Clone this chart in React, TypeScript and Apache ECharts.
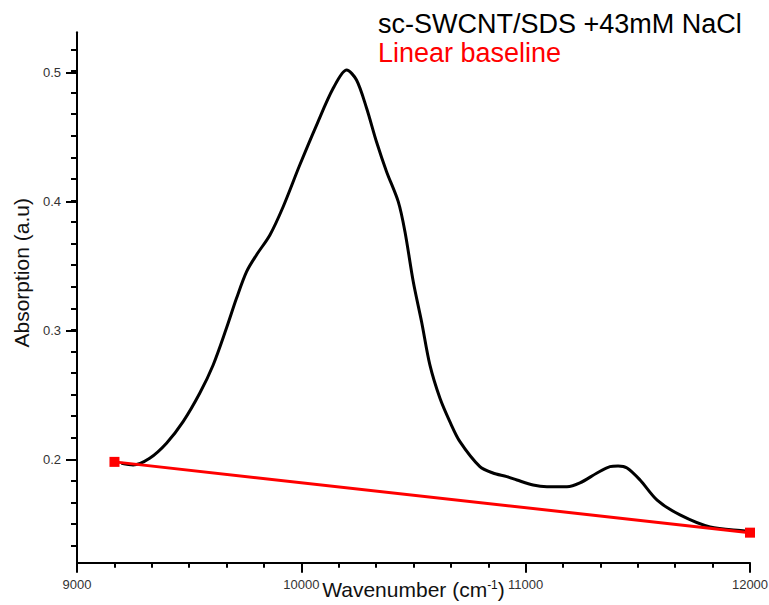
import React, { useEffect, useRef } from "react";
import * as echarts from "echarts";

const wavenumber = [
  9198, 9250, 9324, 9399, 9473, 9547, 9607, 9666, 9711, 9756, 9800, 9860, 9919, 9993,
  10068, 10142, 10202, 10246, 10291, 10335, 10380, 10432, 10462, 10499, 10536, 10573,
  10618, 10662, 10707, 10796, 10854, 10916, 10961, 11033, 11095, 11184, 11242, 11318,
  11376, 11412, 11452, 11510, 11586, 11688, 11822, 11978, 12000,
];
const absorption = [
  0.1969, 0.1956, 0.2008, 0.2124, 0.2291, 0.251, 0.2729, 0.3012, 0.3244, 0.345, 0.3579,
  0.3734, 0.3952, 0.4274, 0.4583, 0.4867, 0.5009, 0.4931, 0.4713, 0.4454, 0.4223, 0.3991,
  0.3759, 0.3372, 0.3063, 0.2729, 0.2471, 0.2291, 0.2136, 0.1943, 0.1894, 0.1866, 0.184,
  0.1801, 0.1788, 0.1788, 0.1817, 0.1894, 0.1943, 0.1948, 0.1933, 0.184, 0.1685, 0.157,
  0.1477, 0.1446, 0.1440,
];
const baselineX = [9167, 12000];
const baselineY = [0.198, 0.1433];

const seriesNames = ["sc-SWCNT/SDS +43mM NaCl", "Linear baseline"];
const xTicks = { min: 9000, max: 12000, step: 1000 };
const yMajor = { min: 0.2, max: 0.5, step: 0.1 };
const yRange = { min: 0.12, max: 0.53 };

export default function App() {
  const ref = useRef<HTMLDivElement>(null);
  useEffect(() => {
    if (!ref.current) return;
    const chart = echarts.init(ref.current, null, { renderer: "svg" });
    const font = "Arial, 'Liberation Sans', sans-serif";
    const black = "#000";
    const hiddenX = (gridIndex: number) => ({
      type: "value",
      gridIndex,
      min: xTicks.min,
      max: xTicks.max,
      show: false,
    });
    const gridBase = { left: 77, right: 19, containLabel: false, outerBoundsMode: "none" };
    chart.setOption({
      animation: false,
      backgroundColor: "#fff",
      textStyle: { fontFamily: font },
      legend: {
        orient: "vertical",
        left: 373,
        top: 10,
        padding: 0,
        itemGap: 2,
        itemWidth: 0,
        itemHeight: 0,
        itemStyle: { opacity: 0 },
        lineStyle: { opacity: 0 },
        selectedMode: false,
        textStyle: { fontSize: 27, fontFamily: font },
        data: [
          { name: seriesNames[0], icon: "rect", textStyle: { color: "#000" } },
          { name: seriesNames[1], icon: "rect", textStyle: { color: "#ff0000" } },
        ],
      },
      grid: [
        { ...gridBase, top: 32.3, bottom: 42.2 },
        { ...gridBase, top: 49.5, bottom: 59.4 },
        { ...gridBase, top: 72.3, bottom: 145.7 },
      ],
      xAxis: [
        {
          type: "value",
          gridIndex: 0,
          min: xTicks.min,
          max: xTicks.max,
          interval: xTicks.step,
          name: "Wavenumber (cm{sup|-1})",
          nameLocation: "middle",
          nameGap: 16,
          nameMoveOverlap: false,
          nameTextStyle: {
            fontSize: 21,
            color: "#111",
            verticalAlign: "top",
            rich: { sup: { fontSize: 12, verticalAlign: "top", color: "#111" } },
          },
          axisLine: { lineStyle: { color: black, width: 2 } },
          axisTick: { length: 10, lineStyle: { color: black, width: 2 } },
          minorTick: { show: true, splitNumber: 6, length: 5, lineStyle: { color: black, width: 2 } },
          axisLabel: { fontSize: 13, color: "#333", margin: 15, formatter: (v: number) => String(v) },
          splitLine: { show: false },
        },
        hiddenX(1),
        hiddenX(2),
      ],
      yAxis: [
        {
          type: "value",
          gridIndex: 0,
          min: yRange.min,
          max: yRange.max,
          axisLine: { show: true, lineStyle: { color: black, width: 2 } },
          axisTick: { show: false },
          axisLabel: { show: false },
          splitLine: { show: false },
        },
        {
          type: "value",
          gridIndex: 1,
          min: 8 / 60,
          max: 31 / 60,
          interval: 1 / 60,
          axisLine: { show: false },
          axisTick: { show: true, length: 6, lineStyle: { color: black, width: 2 } },
          axisLabel: { show: false },
          splitLine: { show: false },
        },
        {
          type: "value",
          gridIndex: 2,
          min: yMajor.min,
          max: yMajor.max,
          interval: yMajor.step,
          name: "Absorption (a.u)",
          nameLocation: "middle",
          nameGap: 45,
          nameMoveOverlap: false,
          nameTextStyle: { fontSize: 21, color: "#111", padding: [0, 14, 0, 0] },
          axisLine: { show: false },
          axisTick: { show: true, length: 11, lineStyle: { color: black, width: 2 } },
          axisLabel: {
            fontSize: 13,
            color: "#333",
            margin: 16,
            formatter: (v: number) => v.toFixed(1),
          },
          splitLine: { show: false },
        },
      ],
      series: [
        {
          name: seriesNames[0],
          type: "line",
          xAxisIndex: 0,
          yAxisIndex: 0,
          data: wavenumber.map((w, i) => [w, absorption[i]]),
          smooth: 0.3,
          showSymbol: false,
          lineStyle: { color: "#000", width: 3 },
          itemStyle: { color: "#000" },
          z: 2,
        },
        {
          name: seriesNames[1],
          type: "line",
          xAxisIndex: 0,
          yAxisIndex: 0,
          data: baselineX.map((w, i) => [w, baselineY[i]]),
          symbol: "rect",
          symbolSize: 10,
          lineStyle: { color: "#ff0000", width: 3 },
          itemStyle: { color: "#ff0000" },
          z: 3,
        },
      ],
    });
    return () => chart.dispose();
  }, []);
  return (
    <div
      ref={ref}
      style={{ position: "fixed", left: 0, top: 0, width: 769, height: 605, background: "#fff" }}
    />
  );
}
